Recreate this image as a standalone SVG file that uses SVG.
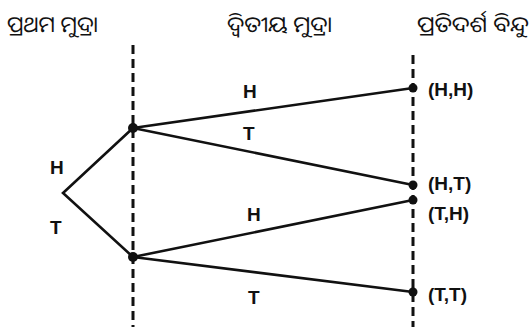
<svg xmlns="http://www.w3.org/2000/svg" width="532" height="327" viewBox="0 0 532 327">
<style>
.bg{fill:#fff}
.dash{stroke:#111;stroke-width:3;stroke-dasharray:9 5;fill:none}
.edge{stroke:#111;stroke-width:2.6;fill:none}
.dot{fill:#111}
.lbl{font-family:"Liberation Sans",Arial,sans-serif;font-size:19px;font-weight:bold;fill:#111}
.pt{font-family:"Liberation Sans",Arial,sans-serif;font-size:19px;font-weight:bold;fill:#111}
.hdr{font-family:"Noto Sans Oriya","Noto Sans",sans-serif;font-size:22px;fill:#111}
</style>
<rect class="bg" x="0" y="0" width="532" height="327"/>
<g id="headers">
<text class="hdr" x="7" y="32" textLength="91" lengthAdjust="spacingAndGlyphs">ପ୍ରଥମ ମୁଦ୍ରା</text>
<text class="hdr" x="227" y="32" textLength="105" lengthAdjust="spacingAndGlyphs">ଦ୍ୱିତୀୟ ମୁଦ୍ରା</text>
<text class="hdr" x="417" y="32" textLength="112" lengthAdjust="spacingAndGlyphs">ପ୍ରତିଦର୍ଶ ବିନ୍ଦୁ</text>
</g>
<g id="guides">
<line class="dash" x1="133" y1="45" x2="133" y2="327"/>
<line class="dash" x1="413" y1="55" x2="413" y2="327"/>
</g>
<g id="connectors">
<polyline class="edge" points="133,128 63,193 133,257"/>
<line class="edge" x1="133" y1="128" x2="413" y2="88"/>
<line class="edge" x1="133" y1="128" x2="413" y2="185"/>
<line class="edge" x1="133" y1="257" x2="413" y2="200"/>
<line class="edge" x1="133" y1="257" x2="413" y2="292"/>
</g>
<g id="edge-labels">
<text class="lbl" x="50" y="174">H</text>
<text class="lbl" x="50" y="234">T</text>
<text class="lbl" x="243" y="98">H</text>
<text class="lbl" x="243" y="140">T</text>
<text class="lbl" x="247" y="221">H</text>
<text class="lbl" x="248" y="304">T</text>
</g>
<g id="n-H"><circle class="dot" cx="133" cy="128" r="5"/></g>
<g id="n-T"><circle class="dot" cx="133" cy="257" r="5"/></g>
<g id="n-HH"><circle class="dot" cx="413" cy="88" r="4.5"/><text class="pt" x="428" y="96">(H,H)</text></g>
<g id="n-HT"><circle class="dot" cx="413" cy="185" r="4.5"/><text class="pt" x="428" y="190">(H,T)</text></g>
<g id="n-TH"><circle class="dot" cx="413" cy="200" r="4.5"/><text class="pt" x="428" y="220">(T,H)</text></g>
<g id="n-TT"><circle class="dot" cx="413" cy="292" r="4.5"/><text class="pt" x="428" y="301">(T,T)</text></g>
</svg>
